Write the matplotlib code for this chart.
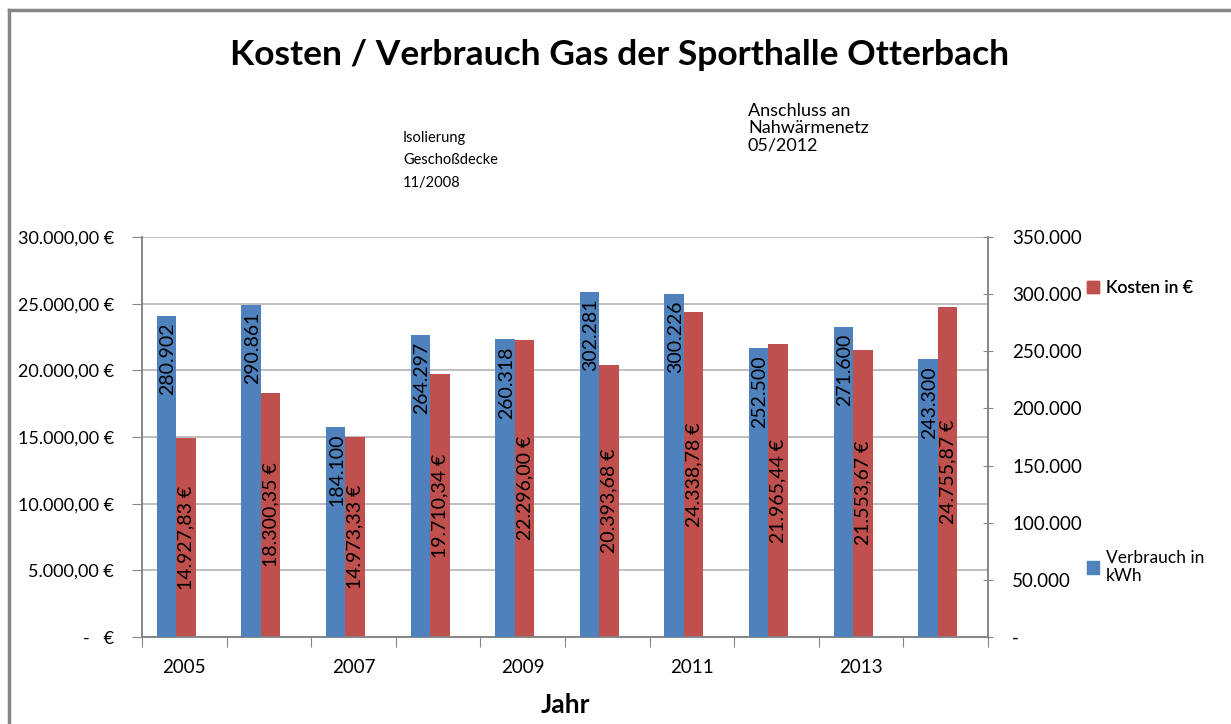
import matplotlib
matplotlib.use('Agg')
import matplotlib.pyplot as plt
from matplotlib.patches import Patch
import numpy as np

plt.rcParams['font.family'] = ['Lato', 'DejaVu Sans']

years = ['2005', '2006', '2007', '2008', '2009', '2010', '2011', '2012', '2013', '2014']
verbrauch = [280902, 290861, 184100, 264297, 260318, 302281, 300226, 252500, 271600, 243300]
kosten = [14927.83, 18300.35, 14973.33, 19710.34, 22296.00, 20393.68, 24338.78, 21965.44, 21553.67, 24755.87]

BLUE = '#4f81bd'
RED = '#c0504d'
GRID = '#b3b3b3'
AXC = '#868686'


def de_num(v, dec=0):
    s = f"{v:,.{dec}f}"
    return s.replace(',', 'X').replace('.', ',').replace('X', '.')


W, H = 1231, 724
fig = plt.figure(figsize=(W / 100, H / 100), dpi=100)

# frame of the chart area (only left/top visible)
fig.add_artist(plt.Line2D([9 / W, 9 / W], [0, 1 - 10 / H], color=AXC, lw=2.5))
fig.add_artist(plt.Line2D([9 / W, 1], [1 - 10 / H, 1 - 10 / H], color=AXC, lw=2.5))

ax = fig.add_axes([142 / W, (H - 637) / H, 846 / W, 400 / H])
ax2 = ax.twinx()

x = np.arange(len(years))
bw = 0.23
red_bars = ax.bar(x + 0.02, kosten, bw, color=RED, zorder=3)
blue_bars = ax2.bar(x - 0.21, verbrauch, bw, color=BLUE, zorder=3)

ax.set_xlim(-0.5, len(years) - 0.5)
ax.set_ylim(0, 30000)
ax2.set_ylim(0, 350000)

ax.set_yticks(np.arange(0, 30001, 5000))
ax.set_yticklabels(['-   €' if v == 0 else de_num(v, 2) + ' €' for v in np.arange(0, 30001, 5000)])
ax2.set_yticks(np.arange(0, 350001, 50000))
ax2.set_yticklabels(['-' if v == 0 else de_num(v) for v in np.arange(0, 350001, 50000)])

ax.yaxis.grid(True, color=GRID, lw=1.2, zorder=0)
ax.set_axisbelow(True)

# x ticks: marks at category boundaries, labels every second year
ax.set_xticks(np.arange(-0.5, len(years) + 0.5, 1))
ax.set_xticklabels([])
ax.set_xticks(x[::2], minor=True)
ax.set_xticklabels(years[::2], minor=True)
ax.tick_params(axis='x', which='major', length=7, color=AXC, direction='out')
ax.tick_params(axis='x', which='minor', length=0, pad=16, labelsize=13.5)

ax.tick_params(axis='y', length=7, color=AXC, labelsize=13, pad=13)
ax2.tick_params(axis='y', length=7, color=AXC, labelsize=13.5, pad=14, direction='inout')

for a in (ax, ax2):
    a.spines['top'].set_visible(False)
    for s in ('left', 'right', 'bottom'):
        a.spines[s].set_color(AXC)
        a.spines[s].set_linewidth(1.2)

# data labels
for b, v in zip(blue_bars, verbrauch):
    ax2.annotate(de_num(v), (b.get_x() + b.get_width() / 2, v), xytext=(1, -5),
                 textcoords='offset points', rotation=90, ha='center', va='top',
                 fontsize=14, color='black', zorder=5)
for b, v in zip(red_bars, kosten):
    ax.text(b.get_x() + b.get_width() / 2, v / 2, de_num(v, 2) + ' €', rotation=90,
            ha='center', va='center', fontsize=14, color='black', zorder=5)

ax.set_xlabel('Jahr', fontsize=19, fontweight='bold', labelpad=12)

fig.text(620 / W, 1 - 55 / H, 'Kosten / Verbrauch Gas der Sporthalle Otterbach',
         ha='center', va='center', fontsize=25.5, fontweight='bold')

fig.text(403 / W, 1 - 131 / H, 'Isolierung\nGeschoßdecke\n11/2008', ha='left', va='top',
         fontsize=10.5, linespacing=1.75)
fig.text(748 / W, 1 - 103 / H, 'Anschluss an\nNahwärmenetz\n05/2012', ha='left', va='top',
         fontsize=13, linespacing=1.1)

prop = {'size': 12.5, 'weight': 'normal'}
leg1 = fig.legend(handles=[Patch(color=RED, label='Kosten in €')], loc='center left',
                  bbox_to_anchor=(1080 / W, 1 - 288 / H), frameon=False, prop=prop,
                  handlelength=0.7, handleheight=0.7, handletextpad=0.4, borderaxespad=0)
fig.add_artist(leg1)
fig.legend(handles=[Patch(color=BLUE, label='Verbrauch in\nkWh')], loc='center left',
           bbox_to_anchor=(1080 / W, 1 - 567 / H), frameon=False, prop=prop,
           handlelength=0.7, handleheight=0.7, handletextpad=0.4, borderaxespad=0)

fig.savefig('out.png', dpi=100)
